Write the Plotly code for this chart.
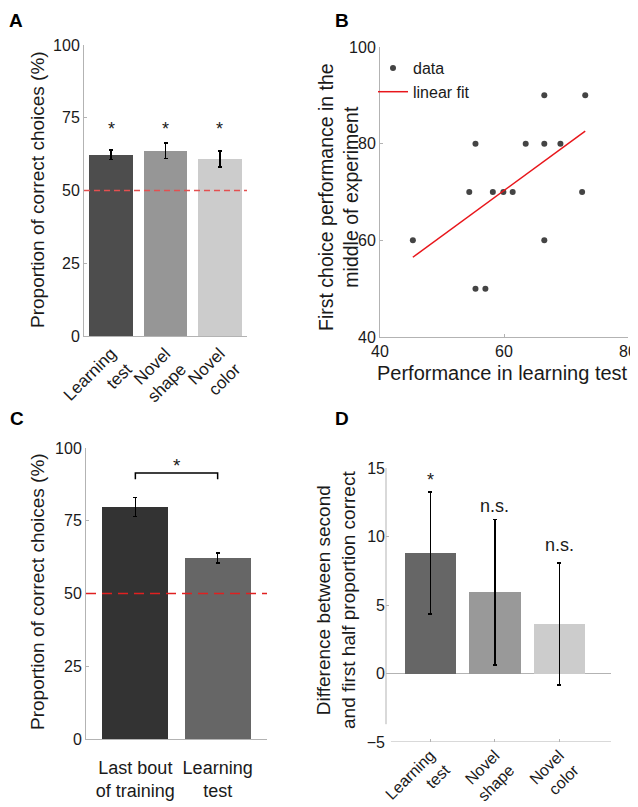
import plotly.graph_objects as go

# Panel A: proportion correct in the three test types
a_labels = ["Learning<br>test", "Novel<br>shape", "Novel<br>color"]
a_means = [62.3, 63.7, 60.8]
a_sem = [1.7, 2.7, 2.7]
a_colors = ["#4d4d4d", "#969696", "#cccccc"]

# Panel B: learning test vs. first choice in the middle of the experiment
b_x = [45.3, 54.4, 55.4, 55.4, 57.0, 58.2, 59.9, 61.4, 63.5, 66.5, 66.5, 66.5, 69.1, 72.6, 73.1]
b_y = [60, 70, 80, 50, 50, 70, 70, 70, 80, 90, 80, 60, 80, 70, 90]
fit_x = [45.3, 73.1]
fit_y = [56.5, 82.6]

# Panel C: last training bout vs. learning test
c_labels = ["Last bout<br>of training", "Learning<br>test"]
c_means = [79.8, 62.2]
c_sem = [3.3, 1.7]
c_colors = ["#333333", "#666666"]

# Panel D: second half minus first half
d_labels = ["Learning<br>test", "Novel<br>shape", "Novel<br>color"]
d_means = [8.8, 5.93, 3.6]
d_ci = [4.45, 5.3, 4.45]
d_colors = ["#666666", "#999999", "#cccccc"]
d_marks = ["*", "n.s.", "n.s."]
d_mark_y = [14.1, 12.2, 9.4]

# the page body has an 8px margin, so the figure is drawn 8px in from the corner
OFF = 8
W, H = 638 - OFF, 807 - OFF
FONT = "Liberation Sans, Arial, sans-serif"
AXIS_GRAY = "#b3b3b3"
TXT = "#1a1a1a"


def px_x(p):
    return (p - OFF) / W


def px_y(p):
    return 1 - (p - OFF) / H


fig = go.Figure()

# ---- A
fig.add_trace(
    go.Bar(
        x=[0, 1, 2],
        y=a_means,
        width=0.8,
        marker=dict(color=a_colors, line=dict(width=0)),
        error_y=dict(type="data", array=a_sem, color="black", thickness=1.5, width=2),
        xaxis="x",
        yaxis="y",
        showlegend=False,
    )
)
for i, m in enumerate(a_means):
    fig.add_annotation(
        x=i, y=71, xref="x", yref="y", text="*", showarrow=False,
        font=dict(size=18, color=TXT),
    )

# ---- B
fig.add_trace(
    go.Scatter(
        x=b_x, y=b_y, mode="markers", name="data",
        marker=dict(color="#444444", size=6),
        xaxis="x2", yaxis="y2",
    )
)
fig.add_trace(
    go.Scatter(
        x=fit_x, y=fit_y, mode="lines", name="linear fit",
        line=dict(color="#e8161b", width=1.5),
        xaxis="x2", yaxis="y2",
    )
)

# ---- C
fig.add_trace(
    go.Bar(
        x=[0, 1],
        y=c_means,
        width=0.8,
        marker=dict(color=c_colors, line=dict(width=0)),
        error_y=dict(type="data", array=c_sem, color="black", thickness=1.2, width=2),
        xaxis="x3",
        yaxis="y3",
        showlegend=False,
    )
)
# significance bracket
fig.add_trace(
    go.Scatter(
        x=[0, 0, 1, 1], y=[89.3, 91.4, 91.4, 89.3], mode="lines",
        line=dict(color="black", width=1.5), xaxis="x3", yaxis="y3",
        showlegend=False, hoverinfo="skip",
    )
)
fig.add_annotation(
    x=0.5, y=94, xref="x3", yref="y3", text="*", showarrow=False,
    font=dict(size=19, color=TXT),
)

# ---- D
fig.add_trace(
    go.Bar(
        x=[0, 1, 2],
        y=d_means,
        width=0.8,
        marker=dict(color=d_colors, line=dict(width=0)),
        error_y=dict(type="data", array=d_ci, color="black", thickness=1.5, width=2),
        xaxis="x4",
        yaxis="y4",
        showlegend=False,
    )
)
for i, (t, yy) in enumerate(zip(d_marks, d_mark_y)):
    fig.add_annotation(
        x=i, y=yy, xref="x4", yref="y4", text=t, showarrow=False,
        font=dict(size=18, color=TXT),
    )

# dashed chance lines and D axis lines
fig.add_shape(type="line", xref="x domain", yref="y", x0=0, x1=1, y0=50, y1=50,
              line=dict(color="#e35050", width=1.5, dash="6px,4px"))
fig.add_shape(type="line", xref="x3 domain", yref="y3", x0=0, x1=1, y0=50, y1=50,
              line=dict(color="#e02020", width=1.5, dash="10px,6px"))
fig.add_shape(type="line", xref="x4 domain", yref="y4", x0=0, x1=1, y0=0, y1=0,
              line=dict(color=AXIS_GRAY, width=1), layer="below")
fig.add_shape(type="line", xref="x4 domain", yref="y4", x0=0, x1=0, y0=-3.7, y1=15,
              line=dict(color=AXIS_GRAY, width=1))
fig.add_shape(type="line", xref="x4 domain", yref="y4", x0=0.022, x1=1, y0=-5, y1=-5,
              line=dict(color=AXIS_GRAY, width=1))

axis_common = dict(
    showline=True, linecolor=AXIS_GRAY, linewidth=1, showgrid=False, zeroline=False,
    ticks="inside", ticklen=3, tickcolor=AXIS_GRAY, automargin=False,
    tickfont=dict(size=16, color=TXT, family=FONT),
)
cat_font = dict(size=17, color=TXT, family=FONT)

fig.update_layout(
    template="none",
    width=W,
    height=H,
    margin=dict(l=0, r=0, t=0, b=0, pad=0),
    paper_bgcolor="white",
    plot_bgcolor="white",
    font=dict(family=FONT, color=TXT),
    bargap=0,
    xaxis=dict(
        axis_common, domain=[px_x(84), px_x(247)], range=[-0.5, 2.5],
        tickvals=[0, 1, 2], ticktext=a_labels, tickangle=-45, ticks="",
        tickfont=cat_font, anchor="y",
    ),
    yaxis=dict(
        axis_common, domain=[px_y(336), px_y(45)], range=[0, 100],
        tickvals=[0, 25, 50, 75, 100], anchor="x",
    ),
    xaxis2=dict(
        axis_common, domain=[px_x(380), px_x(628)], range=[40, 80],
        tickvals=[40, 60, 80], anchor="y2",
    ),
    yaxis2=dict(
        axis_common, domain=[px_y(337), px_y(47)], range=[40, 100],
        tickvals=[40, 60, 80, 100], anchor="x2",
    ),
    xaxis3=dict(
        axis_common, domain=[px_x(86), px_x(267)], range=[-0.6, 1.6],
        tickvals=[0, 1], ticktext=c_labels, tickangle=0, ticks="",
        tickfont=dict(size=18, color=TXT, family=FONT), ticklabelstandoff=12,
        anchor="y3",
    ),
    yaxis3=dict(
        axis_common, domain=[px_y(739), px_y(448)], range=[0, 100],
        tickvals=[0, 25, 50, 75, 100], anchor="x3",
    ),
    xaxis4=dict(
        axis_common, showline=False, domain=[px_x(386), px_x(611)], range=[-0.69, 2.8],
        tickvals=[0, 1, 2], ticktext=d_labels, tickangle=-45,
        tickfont=dict(size=16, color=TXT, family=FONT), anchor="y4",
    ),
    yaxis4=dict(
        axis_common, showline=False, domain=[px_y(742), px_y(468)], range=[-5, 15],
        tickvals=[-5, 0, 5, 10, 15], anchor="x4",
    ),
    legend=dict(
        x=px_x(373), y=px_y(51), xanchor="left", yanchor="top",
        bgcolor="rgba(0,0,0,0)", font=dict(size=16, color=TXT, family=FONT),
        itemwidth=30, tracegroupgap=0,
    ),
    showlegend=True,
)

# axis titles
titles = [
    ("Proportion of correct choices (%)", 37, 190, -90, 19),
    ("First choice performance in the<br>middle of experiment", 338, 197, -90, 19.5),
    ("Performance in learning test", 502, 373, 0, 20),
    ("Proportion of correct choices (%)", 37, 592, -90, 19),
    ("Difference between second<br>and first half proportion correct", 336, 600, -90, 19),
]
for txt, tx, ty, ang, fs in titles:
    fig.add_annotation(x=px_x(tx), y=px_y(ty), xref="paper", yref="paper",
                       xanchor="center", yanchor="middle", text=txt, textangle=ang,
                       showarrow=False, font=dict(size=fs, color=TXT, family=FONT))

# panel letters
for letter, lx, ly in [("A", 16, 8), ("B", 342, 8), ("C", 17, 406), ("D", 342, 406)]:
    fig.add_annotation(x=px_x(lx), y=px_y(ly), xref="paper", yref="paper",
                       xanchor="center", yanchor="top",
                       text="<b>%s</b>" % letter, showarrow=False,
                       font=dict(size=19, color="black", family=FONT))

fig.write_html("out.html")
